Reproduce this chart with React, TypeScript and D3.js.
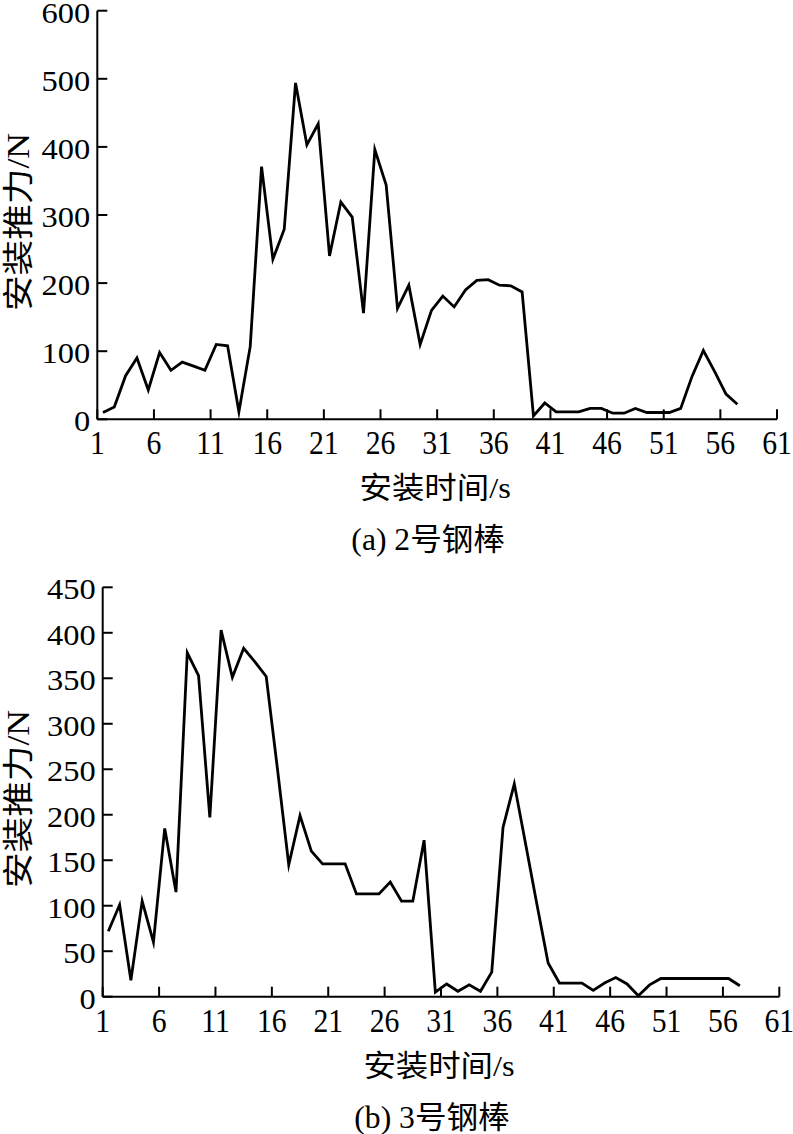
import React from "react";
import * as d3 from "d3";

// ---- data ----
const xTicks = [1, 6, 11, 16, 21, 26, 31, 36, 41, 46, 51, 56, 61];
const yTicksA = [0, 100, 200, 300, 400, 500, 600];
const yTicksB = [0, 50, 100, 150, 200, 250, 300, 350, 400, 450];

// 2号钢棒, time 1..57 s
const rod2Force = [
  10, 18, 64, 90, 43, 98, 72, 84, 78, 72,
  110, 108, 11, 107, 371, 235, 279, 494, 403, 434,
  240, 319, 297, 156, 396, 344, 163, 197, 110, 160,
  181, 165, 190, 204, 205, 197, 196, 187, 5, 24,
  11, 11, 11, 16, 16, 9, 9, 16, 10, 10,
  10, 16, 63, 101, 70, 37, 22,
];

// 3号钢棒, time 1..57 s
const rod3Force = [
  72, 101, 18, 105, 60, 185, 115, 378, 353, 197,
  403, 351, 383, 368, 352, 250, 145, 199, 160, 146,
  146, 146, 113, 113, 113, 126, 105, 105, 172, 5,
  14, 6, 13, 6, 27, 186, 234, 168, 102, 37,
  15, 15, 15, 7, 15, 21, 14, 1, 13, 20,
  20, 20, 20, 20, 20, 20, 12,
];

const xTitle = "安装时间/s";
const yTitle = "安装推力/N";
const captionA = "(a) 2号钢棒";
const captionB = "(b) 3号钢棒";

const FONT = "'Liberation Serif', 'Times New Roman', 'Noto Sans CJK SC', serif";

type PanelProps = {
  values: number[];
  yTicks: number[];
  yMax: number;
  left: number;
  right: number;
  top: number;
  bottom: number;
  caption: string;
};

function Panel({ values, yTicks, yMax, left, right, top, bottom, caption }: PanelProps) {
  const x = d3.scaleLinear().domain([1, 61]).range([left, right]);
  const y = d3.scaleLinear().domain([0, yMax]).range([bottom, top]);
  const pts = values.map((v, i) => ({ t: i + 1, v }));
  const line = d3
    .line<{ t: number; v: number }>()
    .x((d) => x(d.t + 0.5))
    .y((d) => y(d.v));
  const cx = (left + right) / 2;
  return (
    <g fontFamily={FONT} fill="#000">
      <path d={line(pts) || ""} fill="none" stroke="#000" strokeWidth={2.8} strokeLinejoin="miter" strokeMiterlimit={6} />
      {/* axes */}
      <line x1={left} x2={left} y1={top} y2={bottom} stroke="#000" strokeWidth={2} />
      <line x1={left} x2={right} y1={bottom} y2={bottom} stroke="#000" strokeWidth={2} />
      {yTicks.map((t) => (
        <g key={"y" + t}>
          <line x1={left} x2={left + 10} y1={y(t)} y2={y(t)} stroke="#000" strokeWidth={2} />
          <text
            transform={`translate(${left - 7},${y(t) + 12}) scale(1.12,1)`}
            textAnchor="end"
            fontSize={29}
          >
            {t}
          </text>
        </g>
      ))}
      {xTicks.map((t) => (
        <g key={"x" + t}>
          <line x1={x(t)} x2={x(t)} y1={bottom} y2={bottom - 10} stroke="#000" strokeWidth={2} />
          <text
            transform={`translate(${x(t)},${bottom + 35}) scale(0.9,1)`}
            textAnchor="middle"
            fontSize={33}
          >
            {t}
          </text>
        </g>
      ))}
      <text
        transform={`translate(18,${(top + bottom) / 2 + 7}) rotate(-90) scale(1.15,1)`}
        textAnchor="middle"
        dominantBaseline="central"
        fontSize={31}
      >
        {yTitle}
      </text>
      <text
        transform={`translate(${cx - 2},${bottom + 79}) scale(1.08,1)`}
        textAnchor="middle"
        fontSize={30}
      >
        {xTitle}
      </text>
      <text
        transform={`translate(${cx - 9},${bottom + 131}) scale(1.02,1)`}
        textAnchor="middle"
        fontSize={31}
      >
        {caption}
      </text>
    </g>
  );
}

export default function App() {
  return (
    <svg
      width={793}
      height={1134}
      viewBox="0 0 793 1134"
      style={{ position: "absolute", left: 0, top: 0, background: "#fff" }}
    >
      <rect width={793} height={1134} fill="#fff" />
      <Panel
        values={rod2Force}
        yTicks={yTicksA}
        yMax={600}
        left={97.3}
        right={777}
        top={10.7}
        bottom={419.3}
        caption={captionA}
      />
      <Panel
        values={rod3Force}
        yTicks={yTicksB}
        yMax={450}
        left={102.7}
        right={779.3}
        top={587.3}
        bottom={996.7}
        caption={captionB}
      />
    </svg>
  );
}
